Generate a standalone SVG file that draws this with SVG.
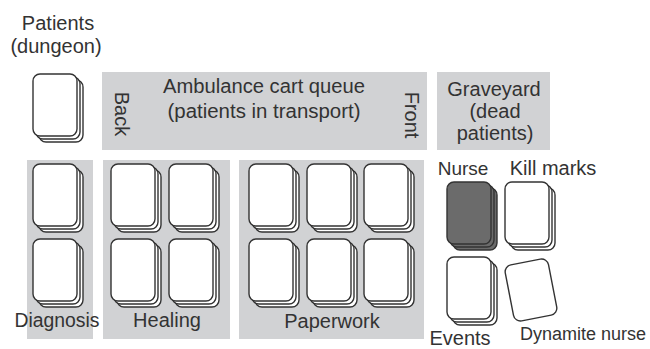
<svg xmlns="http://www.w3.org/2000/svg" xmlns:xlink="http://www.w3.org/1999/xlink" width="650" height="349" viewBox="0 0 650 349">
<style>
.zone{fill:#d1d2d4}
.t{font-family:"Liberation Sans",Arial,sans-serif;font-size:20px;fill:#333333;text-anchor:middle}
.card{fill:#ffffff;stroke:#333333;stroke-width:1.4}
.dark{fill:#6b6b6b;stroke:#333333;stroke-width:1.4}
</style>
<defs>
<g id="stack">
<rect class="card" x="6" y="6" width="44" height="62" rx="7"/>
<rect class="card" x="3" y="3" width="44" height="62" rx="7"/>
<rect class="card" x="0" y="0" width="44" height="62" rx="7"/>
</g>
<g id="darkstack">
<rect class="dark" x="6" y="6" width="44" height="62" rx="7"/>
<rect class="dark" x="3" y="3" width="44" height="62" rx="7"/>
<rect class="dark" x="0" y="0" width="44" height="62" rx="7"/>
</g>
</defs>
<rect width="650" height="349" fill="#ffffff"/>

<g id="patients">
<text class="t" x="58" y="30">Patients</text>
<text class="t" x="56" y="53">(dungeon)</text>
<use xlink:href="#stack" x="33" y="74"/>
</g>

<g id="ambulance">
<rect class="zone" x="102" y="72" width="325" height="78"/>
<text class="t" x="264" y="93" textLength="202" lengthAdjust="spacingAndGlyphs">Ambulance cart queue</text>
<text class="t" x="264" y="118" textLength="193" lengthAdjust="spacingAndGlyphs">(patients in transport)</text>
<text class="t" transform="translate(115,114) rotate(90)">Back</text>
<text class="t" transform="translate(405,115) rotate(90)">Front</text>
</g>

<g id="graveyard">
<rect class="zone" x="437" y="72" width="113" height="78"/>
<text class="t" x="494" y="96">Graveyard</text>
<text class="t" x="495" y="118">(dead</text>
<text class="t" x="495" y="140">patients)</text>
</g>

<g id="diagnosis">
<rect class="zone" x="27" y="160" width="66" height="179"/>
<use xlink:href="#stack" x="33" y="164"/>
<use xlink:href="#stack" x="33" y="239"/>
<text class="t" x="57" y="327" textLength="85" lengthAdjust="spacingAndGlyphs">Diagnosis</text>
</g>

<g id="healing">
<rect class="zone" x="103" y="160" width="127" height="179"/>
<use xlink:href="#stack" x="111" y="164"/>
<use xlink:href="#stack" x="169" y="164"/>
<use xlink:href="#stack" x="111" y="239"/>
<use xlink:href="#stack" x="169" y="239"/>
<text class="t" x="167" y="327">Healing</text>
</g>

<g id="paperwork">
<rect class="zone" x="239" y="160" width="185" height="179"/>
<use xlink:href="#stack" x="249" y="164"/>
<use xlink:href="#stack" x="307" y="164"/>
<use xlink:href="#stack" x="364" y="164"/>
<use xlink:href="#stack" x="249" y="239"/>
<use xlink:href="#stack" x="307" y="239"/>
<use xlink:href="#stack" x="364" y="239"/>
<text class="t" x="332" y="328">Paperwork</text>
</g>

<g id="nurse">
<text class="t" x="463" y="175" style="font-size:19px">Nurse</text>
<use xlink:href="#darkstack" x="447" y="182"/>
</g>

<g id="kill-marks">
<text class="t" x="553" y="175">Kill marks</text>
<use xlink:href="#stack" x="505" y="182"/>
</g>

<g id="events">
<use xlink:href="#stack" x="447" y="257"/>
<text class="t" x="460" y="345">Events</text>
</g>

<g id="dynamite-nurse">
<rect class="card" x="-22" y="-28.5" width="44" height="57" rx="7" transform="translate(531,290) rotate(-11)"/>
<text class="t" x="583" y="340" style="font-size:18px">Dynamite nurse</text>
</g>
</svg>
